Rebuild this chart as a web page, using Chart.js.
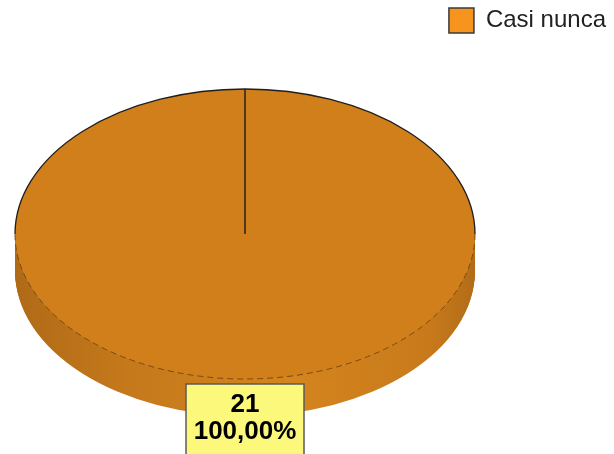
<!DOCTYPE html>
<html>
<head>
<meta charset="utf-8">
<script src="https://cdn.jsdelivr.net/npm/chart.js@4.4.0/dist/chart.umd.min.js"></script>
<style>
html, body { margin: 0; padding: 0; background: #fff; }
#wrap { width: 614px; height: 454px; position: relative; }
</style>
</head>
<body>
<div id="wrap"><canvas id="pie-chartcanvas"></canvas></div>
<script>
// data
var categories = ['Casi nunca'];
var counts = [21];
var percentLabels = ['100,00%'];

var sliceColor = '#D17F1A';
var legendColor = '#F7941D';

// where the tilted pie sits on the page
var pieCenterX = 245, pieCenterY = 234, pieRadiusX = 230, pieRadiusY = 145, pieDepth = 37;

function pieTransform(ctx, arc, dy) {
    ctx.translate(pieCenterX, pieCenterY + dy);
    ctx.scale(pieRadiusX / arc.outerRadius, pieRadiusY / arc.outerRadius);
    ctx.translate(-arc.x, -arc.y);
}

// squash the library's pie into an ellipse and give it a side wall
var tiltPlugin = {
    id: 'tilt',
    beforeDatasetsDraw: function(chart) {
        var ctx = chart.ctx;
        var arc = chart.getDatasetMeta(0).data[0];
        var r = arc.outerRadius;
        var grad = ctx.createLinearGradient(arc.x - r, 0, arc.x + r, 0);
        grad.addColorStop(0, '#B06A17');
        grad.addColorStop(0.25, '#C5791B');
        grad.addColorStop(0.6, '#D5851E');
        grad.addColorStop(0.9, '#C87A1B');
        grad.addColorStop(1, '#B26C18');
        var old = arc.options;
        arc.options = Object.assign({}, old, {backgroundColor: grad, borderWidth: 0});
        for (var dy = pieDepth; dy > 0; dy--) {
            ctx.save();
            pieTransform(ctx, arc, dy);
            arc.draw(ctx);
            ctx.restore();
        }
        arc.options = old;
        ctx.save();
        pieTransform(ctx, arc, 0);
    },
    afterDatasetsDraw: function(chart) {
        var ctx = chart.ctx;
        ctx.restore();
        var arc = chart.getDatasetMeta(0).data[0];

        // rim of the top face
        ctx.save();
        ctx.strokeStyle = '#1e1e1e';
        ctx.lineWidth = 1.3;
        ctx.beginPath();
        ctx.ellipse(pieCenterX, pieCenterY, pieRadiusX, pieRadiusY, 0, Math.PI, 2 * Math.PI);
        ctx.stroke();
        ctx.strokeStyle = '#7a4a12';
        ctx.lineWidth = 1;
        ctx.setLineDash([6, 4]);
        ctx.beginPath();
        ctx.ellipse(pieCenterX, pieCenterY, pieRadiusX, pieRadiusY, 0, 0, Math.PI);
        ctx.stroke();
        ctx.setLineDash([]);

        // edge where the slice starts
        var sa = arc.startAngle;
        ctx.strokeStyle = '#222';
        ctx.lineWidth = 1.5;
        ctx.beginPath();
        ctx.moveTo(pieCenterX, pieCenterY);
        ctx.lineTo(pieCenterX + pieRadiusX * Math.cos(sa), pieCenterY + pieRadiusY * Math.sin(sa));
        ctx.stroke();

        // value label at the middle of the slice
        var mid = (arc.startAngle + arc.endAngle) / 2;
        var lx = pieCenterX + pieRadiusX * Math.cos(mid);
        var ly = pieCenterY + pieRadiusY * Math.sin(mid) + 5;
        var bw = 118, bh = 76;
        ctx.fillStyle = '#FCF87C';
        ctx.fillRect(lx - bw / 2, ly, bw, bh);
        ctx.strokeStyle = '#5a5a5a';
        ctx.lineWidth = 1.5;
        ctx.strokeRect(lx - bw / 2, ly, bw, bh);
        ctx.fillStyle = '#000';
        ctx.font = 'bold 26px "Liberation Sans", Arial, sans-serif';
        ctx.textAlign = 'center';
        ctx.textBaseline = 'middle';
        ctx.fillText(String(counts[0]), lx, ly + 21);
        ctx.fillText(percentLabels[0], lx, ly + 48);
        ctx.restore();
    }
};

var ctx = document.getElementById('pie-chartcanvas');

var data = {
    labels: categories,
    datasets: [{
        data: counts,
        backgroundColor: [sliceColor],
        borderWidth: 0,
        clip: false
    }]
};

var options = {
    responsive: true,
    maintainAspectRatio: false,
    animation: false,
    layout: { padding: 0 },
    plugins: {
        tooltip: { enabled: false },
        legend: {
            display: true,
            position: 'top',
            align: 'end',
            labels: {
                boxWidth: 25,
                boxHeight: 25,
                color: '#222',
                padding: 8,
                font: { size: 24, family: '"Liberation Sans", Arial, sans-serif' },
                generateLabels: function(chart) {
                    var items = Chart.overrides.doughnut.plugins.legend.labels.generateLabels(chart);
                    items.forEach(function(it) {
                        it.fillStyle = legendColor;
                        it.strokeStyle = '#3a3a3a';
                        it.lineWidth = 1.5;
                    });
                    return items;
                }
            }
        }
    }
};

var chart = new Chart(ctx, {
    type: 'pie',
    data: data,
    options: options,
    plugins: [tiltPlugin]
});
</script>
</body>
</html>
